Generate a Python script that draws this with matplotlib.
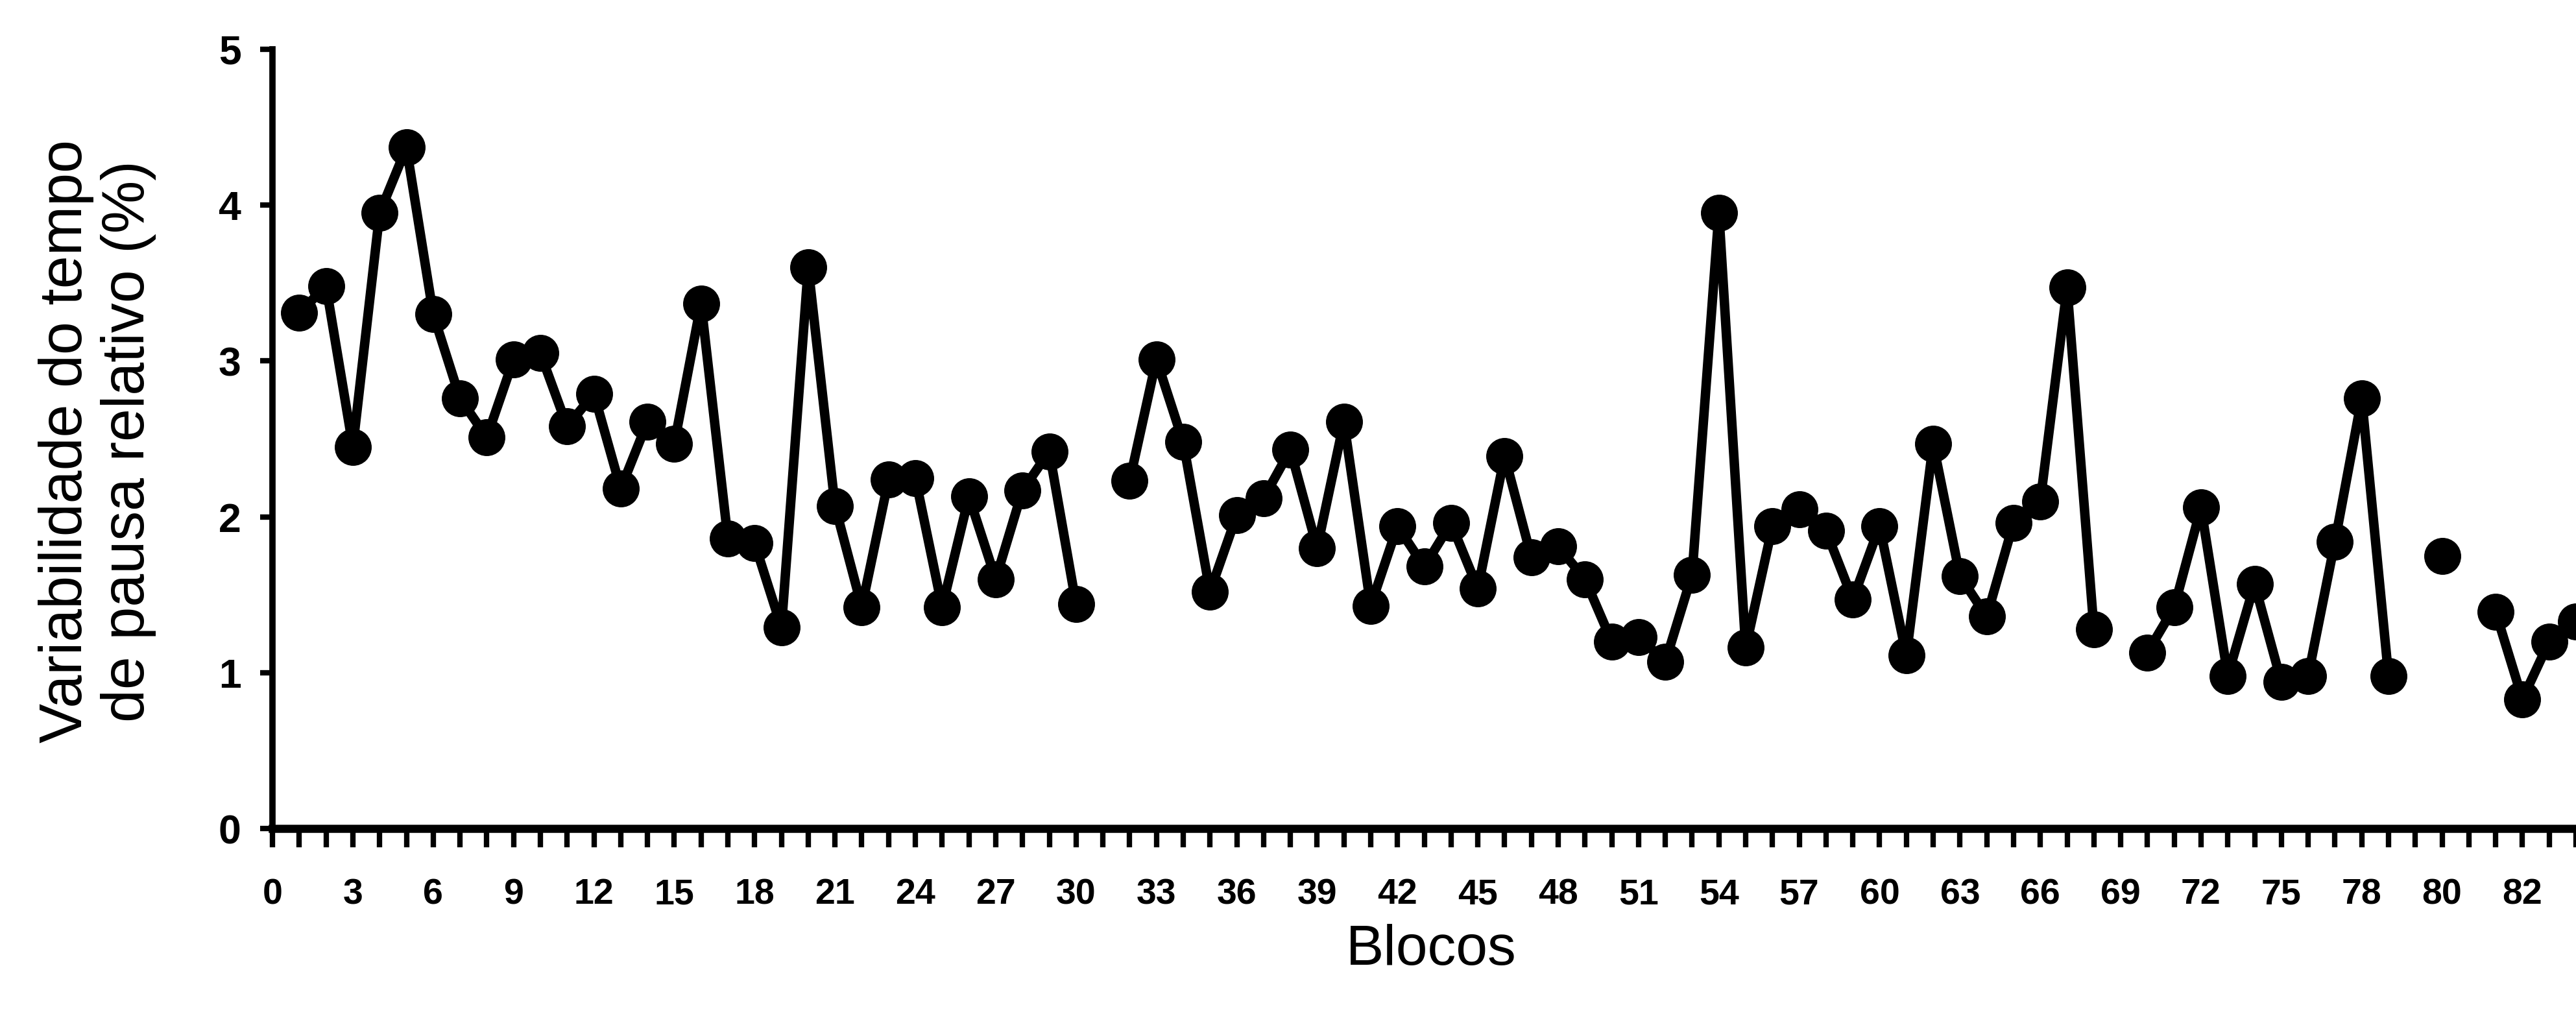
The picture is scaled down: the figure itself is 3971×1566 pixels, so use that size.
import numpy as np
import matplotlib
matplotlib.use('Agg')
import matplotlib.pyplot as plt

plt.rcParams['font.family'] = ['Liberation Sans', 'DejaVu Sans']

# blocos (1..86) e variabilidade (%), NaN = bloco sem dado
blocos = np.arange(1, 87)
variab = [3.31, 3.48, 2.45, 3.95, 4.37, 3.30, 2.76, 2.51, 3.01, 3.05,
          2.58, 2.79, 2.18, 2.61, 2.47, 3.37, 1.86, 1.83, 1.29, 3.60,
          2.07, 1.42, 2.24, 2.25, 1.42, 2.13, 1.60, 2.17, 2.42, 1.44,
          np.nan, 2.23, 3.01, 2.48, 1.52, 2.01, 2.12, 2.43, 1.80, 2.61,
          1.43, 1.94, 1.68, 1.96, 1.54, 2.39, 1.74, 1.81, 1.60, 1.20,
          1.23, 1.07, 1.63, 3.95, 1.16, 1.94, 2.05, 1.91, 1.47, 1.94,
          1.11, 2.47, 1.62, 1.36, 1.96, 2.10, 3.47, 1.28, np.nan, 1.13,
          1.42, 2.06, 0.98, 1.57, 0.94, 0.98, 1.84, 2.76, 0.98, np.nan,
          1.75, np.nan, 1.39, 0.83, 1.20, 1.33]

# rotulos do eixo x (como no original: 80 e 82 ficam em 81 e 84)
xtick_pos = [0, 3, 6, 9, 12, 15, 18, 21, 24, 27, 30, 33, 36, 39, 42, 45,
             48, 51, 54, 57, 60, 63, 66, 69, 72, 75, 78, 81, 84]
xtick_lab = ['0', '3', '6', '9', '12', '15', '18', '21', '24', '27', '30',
             '33', '36', '39', '42', '45', '48', '51', '54', '57', '60',
             '63', '66', '69', '72', '75', '78', '80', '82']
yticks = [0, 1, 2, 3, 4, 5]

fig = plt.figure(figsize=(39.71, 15.66), dpi=100)
ax = fig.add_axes([0.1058, 0.1845, 0.8942, 0.767])

ax.plot(blocos, variab, color='black', lw=10.5, marker='o', ms=40,
        mfc='black', mec='black', clip_on=False)

ax.set_xlim(0, 86)
ax.set_ylim(0, 5)

ax.spines['top'].set_visible(False)
ax.spines['right'].set_visible(False)
ax.spines['left'].set_linewidth(7)
ax.spines['bottom'].set_linewidth(9)

ax.set_xticks(xtick_pos)
ax.set_xticklabels(xtick_lab, fontsize=40, fontweight='bold')
ax.set_xticks(np.arange(0, 87), minor=True)
ax.set_yticks(yticks)
ax.set_yticklabels([str(v) for v in yticks], fontsize=45, fontweight='bold')

ax.tick_params(axis='x', which='both', direction='out', length=21, width=6,
               pad=34)
ax.tick_params(axis='y', direction='out', length=14, width=6, pad=21)

fig.text(0.0378, 0.566, 'Variabilidade do tempo\nde pausa relativo (%)',
         rotation=90, ha='center', va='center', fontsize=66,
         multialignment='center', linespacing=1.15)
fig.text(0.5555, 0.0645, 'Blocos', ha='center', va='center', fontsize=63)

fig.savefig('out.png', dpi=100, facecolor='white')
